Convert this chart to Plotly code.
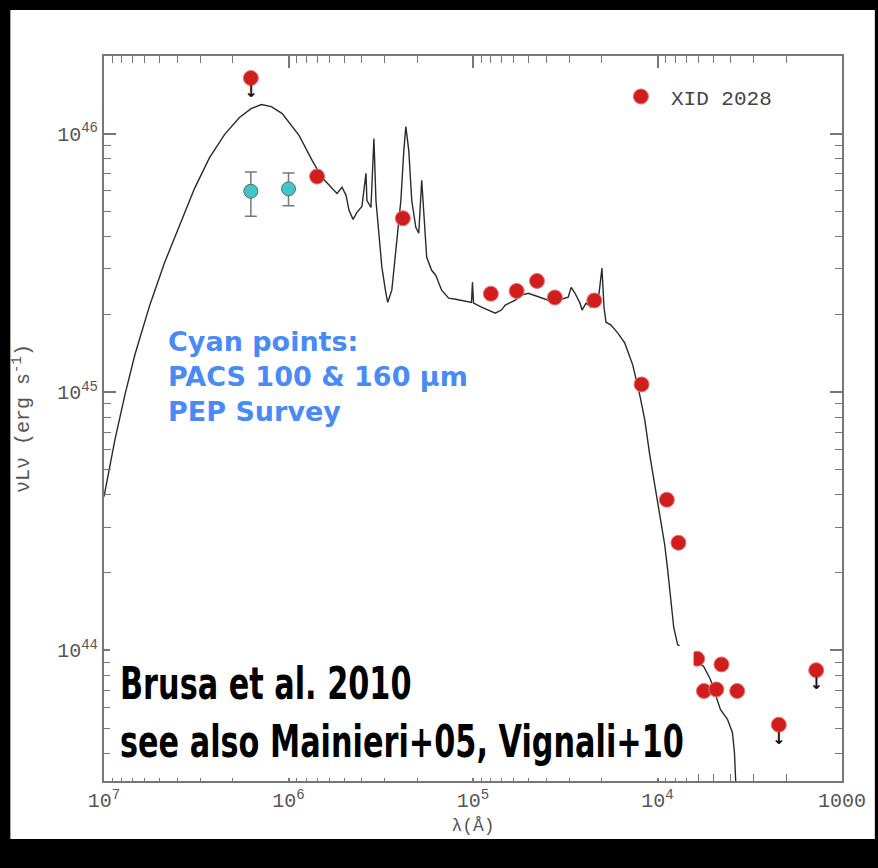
import plotly.graph_objects as go

# ---------------- data ----------------
# Red photometric points of XID 2028 (wavelength in Angstrom, nuLnu in erg/s)
red_lambda = [1.6e6, 7.0e5, 2.4e5, 8.0e4, 5.8e4, 4.5e4, 3.6e4, 2.2e4,
              1.22e4, 8.9e3, 7.7e3, 6.1e3, 4.5e3, 5.6e3, 4.8e3, 3.7e3,
              2.2e3, 1.38e3]
red_nuLnu = [1.64e46, 6.82e45, 4.70e45, 2.40e45, 2.46e45, 2.69e45, 2.32e45, 2.26e45,
             1.07e45, 3.83e44, 2.61e44, 9.29e43, 8.83e43, 6.97e43, 7.07e43, 6.97e43,
             5.16e43, 8.39e43]
red_upper_limit = [True, False, False, False, False, False, False, False,
                   False, False, False, False, False, False, False, False,
                   True, True]

# Cyan points: PACS 100 & 160 micron (PEP survey)
cyan_lambda = [1.6e6, 1.0e6]
cyan_nuLnu = [5.98e45, 6.11e45]
cyan_err_plus = [1.12e45, 0.92e45]
cyan_err_minus = [1.19e45, 0.85e45]

# SED model template (log10 lambda [A], log10 nuLnu [erg/s])
model_log_lambda = [7.000, 6.941, 6.887, 6.833, 6.752, 6.671, 6.590, 6.509, 6.428, 6.347,
                    6.266, 6.201, 6.147, 6.093, 6.034, 5.942, 5.872, 5.818, 5.764, 5.737,
                    5.710, 5.688, 5.672, 5.650, 5.629, 5.602, 5.580, 5.575, 5.553, 5.537,
                    5.526, 5.510, 5.494, 5.472, 5.462, 5.440, 5.413, 5.391, 5.375, 5.364,
                    5.348, 5.332, 5.310, 5.294, 5.278, 5.267, 5.251, 5.224, 5.202, 5.170,
                    5.132, 5.094, 5.062, 5.008, 5.003, 4.997, 4.954, 4.879, 4.846, 4.825,
                    4.771, 4.738, 4.700, 4.646, 4.592, 4.538, 4.484, 4.468, 4.447, 4.420,
                    4.409, 4.387, 4.360, 4.323, 4.301, 4.290, 4.279, 4.252, 4.215, 4.177,
                    4.134, 4.096, 4.069, 4.042, 4.010, 3.983, 3.961, 3.945, 3.929, 3.912,
                    3.891, 3.837, 3.784, 3.750, 3.713, 3.675, 3.659, 3.621, 3.594, 3.583,
                    3.578, 3.572]
model_log_nuLnu = [44.595, 44.815, 44.988, 45.143, 45.336, 45.502, 45.645, 45.788, 45.907, 45.996,
                   46.062, 46.097, 46.112, 46.104, 46.077, 45.992, 45.896, 45.830, 45.788, 45.768,
                   45.792, 45.761, 45.703, 45.668, 45.695, 45.718, 45.846, 45.741, 45.714, 45.981,
                   45.741, 45.614, 45.483, 45.382, 45.347, 45.394, 45.587, 45.741, 45.934, 46.027,
                   45.934, 45.741, 45.637, 45.614, 45.819, 45.703, 45.521, 45.471, 45.452, 45.394,
                   45.363, 45.359, 45.355, 45.347, 45.425, 45.344, 45.328, 45.305, 45.317, 45.336,
                   45.355, 45.375, 45.382, 45.367, 45.355, 45.355, 45.367, 45.405, 45.382, 45.344,
                   45.317, 45.344, 45.328, 45.344, 45.479, 45.328, 45.270, 45.259, 45.228, 45.189,
                   45.104, 44.988, 44.892, 44.757, 44.622, 44.506, 44.409, 44.313, 44.197, 44.089,
                   44.023, 43.988, 43.958, 43.938, 43.888, 43.811, 43.772, 43.734, 43.683, 43.606,
                   43.498, 43.425]

# Tick labels
x_tickvals = [1e7, 1e6, 1e5, 1e4, 1e3]
x_ticktext = ["10<sup>7</sup>", "10<sup>6</sup>", "10<sup>5</sup>", "10<sup>4</sup>", "1000"]
y_tickvals = [1e44, 1e45, 1e46]
y_ticktext = ["10<sup>44</sup>", "10<sup>45</sup>", "10<sup>46</sup>"]

x_title = "λ(Å)"
y_title = "νLν (erg s<sup>-1</sup>)"
legend_name = "XID 2028"
cyan_note = "Cyan points:<br>PACS 100 &amp; 160 µm<br>PEP Survey"
ref_note = "Brusa et al. 2010<br>see also Mainieri+05, Vignali+10"

x_minor = [m * 10.0 ** e for e in range(3, 7) for m in range(2, 10)]
y_minor = [m * 10.0 ** e for e in range(43, 47) for m in range(2, 10)]

# ---------------- figure ----------------
fig = go.Figure()

fig.add_trace(go.Scatter(
    x=[10.0 ** v for v in model_log_lambda],
    y=[10.0 ** v for v in model_log_nuLnu],
    mode="lines", line=dict(color="#2a2a2a", width=1.4),
    showlegend=False, hoverinfo="skip"))

fig.add_trace(go.Scatter(
    x=cyan_lambda, y=cyan_nuLnu, mode="markers",
    marker=dict(size=14, color="#3ec6cc", line=dict(color="#666666", width=1)),
    error_y=dict(type="data", symmetric=False, array=cyan_err_plus,
                 arrayminus=cyan_err_minus, color="#777777", thickness=1.5, width=6),
    showlegend=False))

fig.add_trace(go.Scatter(
    x=red_lambda, y=red_nuLnu, mode="markers", name=legend_name,
    marker=dict(size=15, color="#d01e1e", line=dict(color="#e87070", width=1)),
    showlegend=True))

lim_x = [l for l, u in zip(red_lambda, red_upper_limit) if u]
lim_y = [v for v, u in zip(red_nuLnu, red_upper_limit) if u]
fig.add_trace(go.Scatter(
    x=lim_x, y=lim_y, mode="markers+text",
    marker=dict(size=10, color="rgba(0,0,0,0)"),
    text=["↓"] * len(lim_x), textposition="bottom center",
    textfont=dict(family="DejaVu Sans", size=16, color="#111111", weight="bold"),
    showlegend=False, hoverinfo="skip"))

axis_common = dict(
    type="log", tickmode="array",
    ticks="inside", ticklen=12, tickwidth=1.5, tickcolor="#777777",
    showline=True, linecolor="#777777", linewidth=2, mirror="allticks",
    showgrid=False, zeroline=False,
    tickfont=dict(family="Liberation Mono", size=20, color="#555555"),
)

fig.update_layout(
    width=878, height=868,
    margin=dict(l=104, r=33, t=56, b=87),
    paper_bgcolor="black", plot_bgcolor="white",
    xaxis=dict(axis_common, range=[7, 3], tickvals=x_tickvals, ticktext=x_ticktext,
               minor=dict(ticks="inside", ticklen=7, tickwidth=1.2, tickcolor="#777777",
                          tickvals=x_minor, showgrid=False),
               title=dict(text=x_title, standoff=6,
                          font=dict(family="Liberation Mono", size=18, color="#555555"))),
    yaxis=dict(axis_common, range=[43.495, 46.3], tickvals=y_tickvals, ticktext=y_ticktext,
               minor=dict(ticks="inside", ticklen=7, tickwidth=1.2, tickcolor="#777777",
                          tickvals=y_minor, showgrid=False),
               title=dict(text=y_title, standoff=22,
                          font=dict(family="Liberation Mono", size=20, color="#555555"))),
    legend=dict(x=0.6869, y=0.972, xanchor="left", yanchor="top",
                itemwidth=50, bgcolor="rgba(0,0,0,0)",
                font=dict(family="Liberation Mono", size=21, color="#444444")),
    shapes=[
        dict(type="rect", xref="paper", yref="paper", x0=-0.1269, x1=1.0445,
             y0=-0.080, y1=1.0634, fillcolor="white", line=dict(width=0), layer="below"),
        dict(type="rect", xref="paper", yref="paper", x0=0.0081, x1=0.7989,
             y0=0.004, y1=0.1862, fillcolor="white", line=dict(width=0), layer="above"),
    ],
    annotations=[
        dict(text=cyan_note, xref="paper", yref="paper", x=0.0837, y=0.631,
             xanchor="left", yanchor="top", align="left", showarrow=False,
             font=dict(family="DejaVu Sans", size=27, color="#4a8af4", weight="bold")),
        dict(text=ref_note, xref="paper", yref="paper", x=0.0189, y=0.1738,
             xanchor="left", yanchor="top", align="left", showarrow=False,
             font=dict(family="DejaVu Sans", size=45, color="black", weight="bold")),
    ],
)

# Condense the reference note horizontally (the original uses a condensed face)
squeeze_js = """
var gd = document.getElementById('{plot_id}');
var texts = gd.querySelectorAll('text.annotation-text');
for (var i = 0; i < texts.length; i++) {
  var t = texts[i];
  if (t.textContent.indexOf('Brusa') >= 0) {
    var b = t.getBBox();
    var s = 564 / b.width;
    var prev = t.getAttribute('transform') || '';
    t.setAttribute('transform', prev + ' translate(' + b.x + ',0) scale(' + s + ',1) translate(' + (-b.x) + ',0)');
  }
}
"""

fig.write_html("out.html", post_script=squeeze_js)
